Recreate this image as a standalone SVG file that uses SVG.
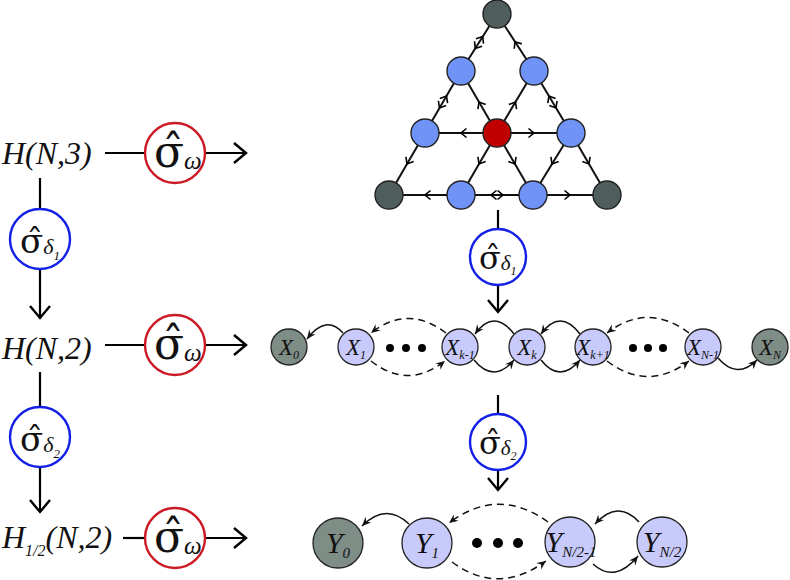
<svg xmlns="http://www.w3.org/2000/svg" width="790" height="580" viewBox="0 0 790 580">
<style>
.ln{stroke:#000;stroke-width:2.2;fill:none}
.bar{marker-end:url(#big)}
.tl{stroke:#111;stroke-width:2;fill:none}
.cv{stroke:none;fill:none;marker-end:url(#ch)}
.arc{stroke:#111;stroke-width:1.5;fill:none;marker-end:url(#ah)}
.dash{stroke-dasharray:7 5}
.tn{stroke:#222;stroke-width:1.4}
.blue{fill:#6f93f7}
.dgray{fill:#4f5e5c}
.red{fill:#c00000}
.lav{fill:#c8cafb;stroke:#222;stroke-width:1.3}
.lgray{fill:#7e8d86;stroke:#222;stroke-width:1.3}
.opr{fill:#fff;stroke:#cc1a24;stroke-width:2.4}
.opb{fill:#fff;stroke:#1420e6;stroke-width:2.4}
.it{font-family:"Liberation Serif","Times New Roman",serif;font-style:italic;fill:#111}
.sg{font-family:"DejaVu Serif","Liberation Serif",serif;fill:#111}
</style>
<defs>
<marker id="big" markerUnits="userSpaceOnUse" viewBox="-16 -14 20 28" markerWidth="20" markerHeight="28" refX="0" refY="0" orient="auto"><path d="M-12,-10 L0,0 L-12,10" fill="none" stroke="#000" stroke-width="2.4"/></marker>
<marker id="ch" markerUnits="userSpaceOnUse" viewBox="-8 -7 10 14" markerWidth="10" markerHeight="14" refX="0" refY="0" orient="auto"><path d="M-5.5,-4.5 L0,0 L-5.5,4.5" fill="none" stroke="#000" stroke-width="1.6"/></marker>
<marker id="ah" markerUnits="userSpaceOnUse" viewBox="-10 -5 11 10" markerWidth="11" markerHeight="10" refX="0" refY="0" orient="auto"><path d="M0,0 L-9,-4 L-6,0 L-9,4 Z" fill="#111"/></marker>
</defs>

<g id="connectors">
  <path class="ln" d="M105,153 H145"/>
  <path class="ln bar" d="M205,153 H246"/>
  <path class="ln" d="M105,345 H145"/>
  <path class="ln bar" d="M205,345 H246"/>
  <path class="ln" d="M123,538 H145"/>
  <path class="ln bar" d="M205,538 H246"/>
  <path class="ln" d="M40,178 V209"/>
  <path class="ln bar" d="M40,269 V318"/>
  <path class="ln" d="M40,372 V407"/>
  <path class="ln bar" d="M40,467 V512"/>
  <path class="ln" d="M498,210 V229"/>
  <path class="ln bar" d="M498,285 V312"/>
  <path class="ln" d="M498,395 V414"/>
  <path class="ln bar" d="M498,470 V490"/>
  <path class="tl" d="M497,14 L461,71 M497,14 L534,71 M461,71 L425,133 M461,71 L497,133 M534,71 L497,133 M534,71 L571,133 M425,133 L571,133 M425,133 L389,195 M497,133 L461,195 M497,133 L533,195 M571,133 L533,195 M571,133 L607,195 M389,195 L607,195"/>
  <path class="cv" d="M481.6,38.3 L482.7,36.6"/>
  <path class="cv" d="M476.4,46.7 L475.3,48.4"/>
  <path class="cv" d="M516.1,43.4 L515,41.7"/>
  <path class="cv" d="M445.5,97.7 L446.5,96"/>
  <path class="cv" d="M440.5,106.3 L439.5,108"/>
  <path class="cv" d="M480,103.7 L479,102"/>
  <path class="cv" d="M514.5,103.7 L515.5,102"/>
  <path class="cv" d="M549.9,97.7 L548.9,96"/>
  <path class="cv" d="M555,106.3 L556,108"/>
  <path class="cv" d="M463,133 L461,133"/>
  <path class="cv" d="M532,133 L534,133"/>
  <path class="cv" d="M408,162.3 L407,164"/>
  <path class="cv" d="M480,162.3 L479,164"/>
  <path class="cv" d="M514,162.3 L515,164"/>
  <path class="cv" d="M553,162.3 L552,164"/>
  <path class="cv" d="M588,162.3 L589,164"/>
  <path class="cv" d="M427,195 L425,195"/>
  <path class="cv" d="M493,195 L491,195"/>
  <path class="cv" d="M501,195 L503,195"/>
  <path class="cv" d="M568,195 L570,195"/>
  <path class="arc" d="M343,333 Q326,314 307,339"/>
  <path class="arc dash" d="M446,333 Q408,304 371,333"/>
  <path class="arc dash" d="M371,361 Q408,390 445,361"/>
  <path class="arc" d="M514,334 Q494,308 475,334"/>
  <path class="arc" d="M474,360 Q494,384 514,360"/>
  <path class="arc" d="M580,334 Q560,308 541,334"/>
  <path class="arc" d="M541,360 Q560,384 580,360"/>
  <path class="arc dash" d="M689,333 Q648,302 607,333"/>
  <path class="arc dash" d="M607,361 Q648,392 689,361"/>
  <path class="arc" d="M718,358 Q737,380 757,360"/>
  <path class="arc" d="M409,524 Q386,502 362,526"/>
  <path class="arc dash" d="M548,522 Q498,486 449,523"/>
  <path class="arc dash" d="M452,562 Q498,596 546,561"/>
  <path class="arc" d="M639,522 Q618,499 595,524"/>
  <path class="arc" d="M593,564 Q615,584 638,556"/>
</g>

<g id="h3"><text class="it" x="2" y="164" font-size="32">H(N,3)</text></g>
<g id="h2"><text class="it" x="2" y="359" font-size="32">H(N,2)</text></g>
<g id="h12"><text class="it" x="2" y="548" font-size="32">H<tspan font-size="16" dy="8">1/2</tspan><tspan dy="-8">(N,2)</tspan></text></g>

<g id="w1"><circle class="opr" cx="175" cy="153" r="30"/><text class="sg" x="154" y="167" font-size="44">σ̂<tspan class="it" font-size="25" dy="2">ω</tspan></text></g>
<g id="w2"><circle class="opr" cx="175" cy="345" r="30"/><text class="sg" x="154" y="359" font-size="44">σ̂<tspan class="it" font-size="25" dy="2">ω</tspan></text></g>
<g id="w3"><circle class="opr" cx="175" cy="538" r="30"/><text class="sg" x="154" y="552" font-size="44">σ̂<tspan class="it" font-size="25" dy="2">ω</tspan></text></g>

<g id="d1l"><circle class="opb" cx="40" cy="239" r="30"/><text class="sg" x="20" y="253" font-size="34">σ̂<tspan class="it" font-size="22" dy="1">δ</tspan><tspan class="it" font-size="13" dy="6">1</tspan></text></g>
<g id="d2l"><circle class="opb" cx="40" cy="437" r="30"/><text class="sg" x="20" y="451" font-size="34">σ̂<tspan class="it" font-size="22" dy="1">δ</tspan><tspan class="it" font-size="13" dy="6">2</tspan></text></g>
<g id="d1r"><circle class="opb" cx="498" cy="257" r="28"/><text class="sg" x="479" y="269" font-size="32">σ̂<tspan class="it" font-size="21" dy="1">δ</tspan><tspan class="it" font-size="12" dy="5">1</tspan></text></g>
<g id="d2r"><circle class="opb" cx="498" cy="442" r="28"/><text class="sg" x="479" y="454" font-size="32">σ̂<tspan class="it" font-size="21" dy="1">δ</tspan><tspan class="it" font-size="12" dy="5">2</tspan></text></g>

<g id="t0"><circle class="tn dgray" cx="497" cy="14" r="14"/></g>
<g id="ta"><circle class="tn blue" cx="461" cy="71" r="14"/></g>
<g id="tb"><circle class="tn blue" cx="534" cy="71" r="14"/></g>
<g id="tc"><circle class="tn blue" cx="425" cy="133" r="14"/></g>
<g id="tr"><circle class="tn red" cx="497" cy="133" r="14"/></g>
<g id="td"><circle class="tn blue" cx="571" cy="133" r="14"/></g>
<g id="te"><circle class="tn dgray" cx="389" cy="195" r="14"/></g>
<g id="tf"><circle class="tn blue" cx="461" cy="195" r="14"/></g>
<g id="tg"><circle class="tn blue" cx="533" cy="195" r="14"/></g>
<g id="th"><circle class="tn dgray" cx="607" cy="195" r="14"/></g>

<g id="x0"><circle class="lgray" cx="289" cy="347" r="18"/><text class="it" x="289" y="355" font-size="23" text-anchor="middle">X<tspan font-size="12" dy="4">0</tspan></text></g>
<g id="x1"><circle class="lav" cx="356" cy="347" r="18"/><text class="it" x="356" y="355" font-size="23" text-anchor="middle">X<tspan font-size="12" dy="4">1</tspan></text></g>
<g id="xkm1"><circle class="lav" cx="460" cy="347" r="18"/><text class="it" x="460" y="355" font-size="23" text-anchor="middle">X<tspan font-size="12" dy="4">k-1</tspan></text></g>
<g id="xk"><circle class="lav" cx="527" cy="347" r="18"/><text class="it" x="527" y="355" font-size="23" text-anchor="middle">X<tspan font-size="12" dy="4">k</tspan></text></g>
<g id="xkp1"><circle class="lav" cx="593" cy="347" r="18"/><text class="it" x="593" y="355" font-size="23" text-anchor="middle">X<tspan font-size="12" dy="4">k+1</tspan></text></g>
<g id="xnm1"><circle class="lav" cx="703" cy="347" r="18"/><text class="it" x="703" y="355" font-size="23" text-anchor="middle">X<tspan font-size="12" dy="4">N-1</tspan></text></g>
<g id="xn"><circle class="lgray" cx="770" cy="347" r="18"/><text class="it" x="770" y="355" font-size="23" text-anchor="middle">X<tspan font-size="12" dy="4">N</tspan></text></g>
<g id="xdots1"><circle cx="390" cy="348" r="4"/><circle cx="406" cy="348" r="4"/><circle cx="422" cy="348" r="4"/></g>
<g id="xdots2"><circle cx="633" cy="348" r="4"/><circle cx="648" cy="348" r="4"/><circle cx="663" cy="348" r="4"/></g>

<g id="y0"><circle class="lgray" cx="338" cy="543" r="25"/><text class="it" x="338" y="553" font-size="30" text-anchor="middle">Y<tspan font-size="15" dy="5">0</tspan></text></g>
<g id="y1"><circle class="lav" cx="427" cy="543" r="25"/><text class="it" x="427" y="553" font-size="30" text-anchor="middle">Y<tspan font-size="15" dy="5">1</tspan></text></g>
<g id="yn2m1"><circle class="lav" cx="570" cy="542" r="25"/><text class="it" x="571" y="552" font-size="30" text-anchor="middle">Y<tspan font-size="15" dy="5">N/2-1</tspan></text></g>
<g id="yn2"><circle class="lav" cx="662" cy="542" r="25"/><text class="it" x="662" y="552" font-size="30" text-anchor="middle">Y<tspan font-size="15" dy="5">N/2</tspan></text></g>
<g id="ydots"><circle cx="477" cy="543" r="5"/><circle cx="498" cy="543" r="5"/><circle cx="518" cy="543" r="5"/></g>
</svg>
